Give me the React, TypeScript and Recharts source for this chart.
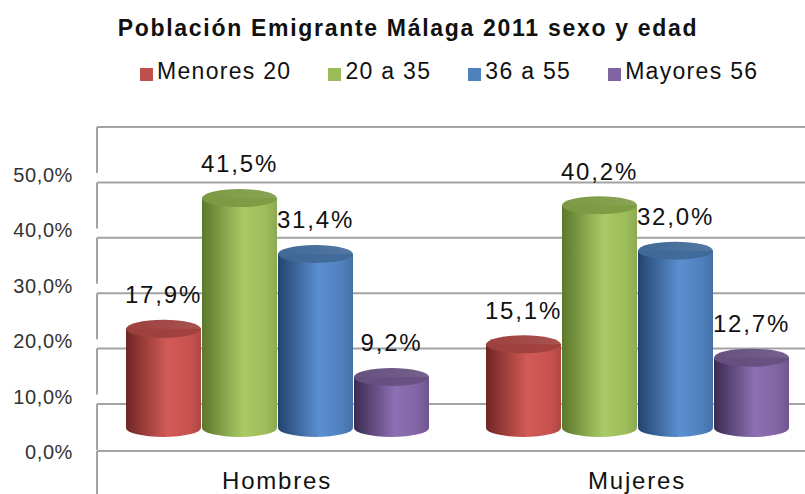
import { BarChart, Bar, XAxis, YAxis, CartesianGrid, LabelList } from "recharts";

const categories = ["Hombres", "Mujeres"];
const menores20 = [17.9, 15.1];
const de20a35 = [41.5, 40.2];
const de36a55 = [31.4, 32.0];
const mayores56 = [9.2, 12.7];
const seriesNames = ["Menores 20", "20 a 35", "36 a 55", "Mayores 56"];
const yTicks = [0, 10, 20, 30, 40, 50];

// colores por serie: [oscuro, claro, base, borde derecho, tapa]
const colores = [
  ["#6f2624", "#d25a57", "#c8524f", "#ad4744", "#9e403e"],
  ["#5c782c", "#a9ca65", "#9dbd5b", "#8ca950", "#7b9a43"],
  ["#22446e", "#5b8fd0", "#4f81bd", "#4470a6", "#406997"],
  ["#3b2b51", "#8d70b3", "#8064a2", "#6f568e", "#66507f"],
];
const legendColors = ["#c0504d", "#9bbb59", "#4f81bd", "#8064a2"];

const series = [menores20, de20a35, de36a55, mayores56];
const data = categories.map((cat, i) => ({
  cat,
  s0: series[0][i],
  s1: series[1][i],
  s2: series[2][i],
  s3: series[3][i],
}));

const fmt = (v: number) => v.toFixed(1).replace(".", ",") + "%";
const FONT = "Liberation Sans, Arial, sans-serif";

function Cylinder(props: any) {
  const { x, y, width, height, serie } = props;
  const rx = width / 2;
  const ry = 9;
  const bottom = y + height;
  const d = `M${x},${y} L${x},${bottom} A${rx},${ry} 0 0 0 ${x + width},${bottom} L${x + width},${y} Z`;
  return (
    <g>
      <path d={d} fill={`url(#cuerpo${serie})`} />
      <ellipse cx={x + rx} cy={y} rx={rx} ry={ry} fill={`url(#tapa${serie})`} />
    </g>
  );
}

function GridLine(p: any) {
  return (
    <g key={p.key}>
      <line x1={p.x1} x2={p.x2} y1={p.y1} y2={p.y2} stroke="#a3a3a3" strokeWidth={2} />
      <line x1={p.x1} x2={p.x1} y1={p.y1} y2={p.y1 + 46} stroke="#a3a3a3" strokeWidth={2} />
    </g>
  );
}

function YTick(p: any) {
  return (
    <text x={73} y={p.y + 48} dy="0.35em" textAnchor="end" fontSize={20} letterSpacing={0.6}
      fill="#333" fontFamily={FONT}>
      {p.payload.value.toFixed(1).replace(".", ",") + "%"}
    </text>
  );
}

function XTick(p: any) {
  return (
    <text x={p.x} y={p.y + 36} textAnchor="middle" fontSize={24} letterSpacing={1.8}
      fill="#111" fontFamily={FONT}>
      {p.payload.value}
    </text>
  );
}

function ValueLabel(p: any) {
  return (
    <text x={p.x + p.width / 2} y={p.y - 34} dy="0.35em" textAnchor="middle" fontSize={24}
      letterSpacing={1.8} fill="#111" fontFamily={FONT}>
      {fmt(p.value)}
    </text>
  );
}

export default function App() {
  return (
    <div style={{ position: "absolute", left: 0, top: 0, width: 805, height: 494, background: "#fff",
      fontFamily: FONT }}>
      <div style={{ position: "absolute", left: 0, top: 16.5, width: 816, textAlign: "center",
        fontSize: 23, lineHeight: "23px", fontWeight: "bold", letterSpacing: 1.7, color: "#111" }}>
        Población Emigrante Málaga 2011 sexo y edad
      </div>
      <div style={{ position: "absolute", left: 140, top: 59.5, display: "flex", gap: 37,
        fontSize: 23, lineHeight: "23px", letterSpacing: 1.3, color: "#111" }}>
        {seriesNames.map((n, i) => (
          <div key={n} style={{ display: "flex", alignItems: "flex-end" }}>
            <span style={{ width: 13, height: 13, background: legendColors[i], marginRight: 4, marginBottom: 2 }} />
            <span>{n}</span>
          </div>
        ))}
      </div>
      <BarChart width={805} height={494} data={data}
        margin={{ top: 127, right: -12, left: 0, bottom: 13 }}
        barCategoryGap={29} barGap={1}>
        <defs>
          {colores.map((c, i) => (
            <linearGradient key={"c" + i} id={`cuerpo${i}`} x1="0" y1="0" x2="1" y2="0">
              <stop offset="0%" stopColor={c[0]} />
              <stop offset="55%" stopColor={c[1]} />
              <stop offset="85%" stopColor={c[2]} />
              <stop offset="100%" stopColor={c[3]} />
            </linearGradient>
          ))}
          {colores.map((c, i) => (
            <linearGradient key={"t" + i} id={`tapa${i}`} x1="0" y1="0" x2="1" y2="0">
              <stop offset="0%" stopColor={c[4]} />
              <stop offset="100%" stopColor={c[4]} stopOpacity={0.9} />
            </linearGradient>
          ))}
        </defs>
        <CartesianGrid yAxisId="wall" vertical={false} horizontal={GridLine} />
        <XAxis dataKey="cat" height={30} tickLine={false} tickSize={0} tick={XTick}
          axisLine={{ stroke: "#a3a3a3", strokeWidth: 2 }} />
        {/* pared del fondo: 0% a 404px, 50% a 127px */}
        <YAxis yAxisId="wall" width={97} domain={[-8.484, 50]} ticks={yTicks} allowDataOverflow
          axisLine={false} tickLine={false} tickSize={0} tickMargin={24} tick={YTick} />
        {/* eje de las columnas: base de los cilindros a 428px */}
        <YAxis yAxisId="bars" hide domain={[-4.152, 54.332]} allowDataOverflow />
        {[0, 1, 2, 3].map((i) => (
          <Bar key={i} yAxisId="bars" dataKey={`s${i}`} name={seriesNames[i]} isAnimationActive={false}
            shape={(p: any) => <Cylinder {...p} serie={i} />}>
            <LabelList dataKey={`s${i}`} content={ValueLabel} />
          </Bar>
        ))}
      </BarChart>
    </div>
  );
}
